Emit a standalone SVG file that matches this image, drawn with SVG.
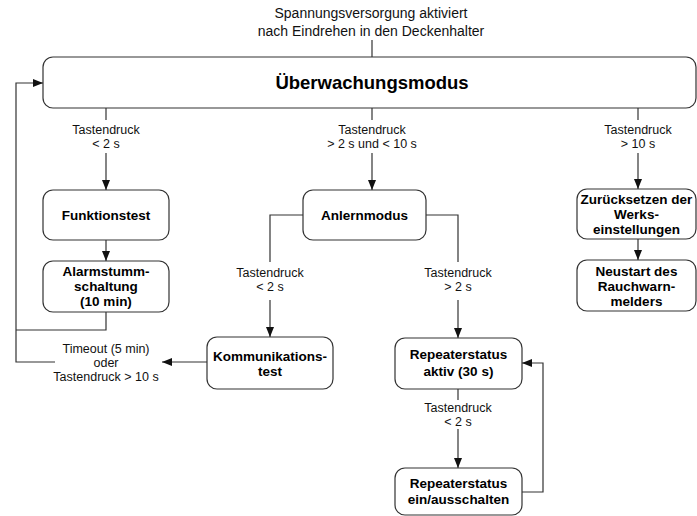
<svg xmlns="http://www.w3.org/2000/svg" width="697" height="516" viewBox="0 0 697 516">
<style>
.box{fill:#fff;stroke:#333;stroke-width:1.2}
.c{fill:none;stroke:#333;stroke-width:1.2}
.t{font-family:"Liberation Sans",Arial,sans-serif;font-size:12.5px;fill:#111;text-anchor:middle}
.b{font-family:"Liberation Sans",Arial,sans-serif;font-size:13.5px;font-weight:bold;fill:#000;text-anchor:middle}
</style>
<defs>
<marker id="ah" viewBox="0 0 10 8" refX="10" refY="4" markerWidth="10" markerHeight="8" markerUnits="userSpaceOnUse" orient="auto">
<path d="M0,0 L10,4 L0,8 Z" fill="#111"/>
</marker>
</defs>
<rect width="697" height="516" fill="#fff"/>
<g id="connectors">
<line class="c" x1="372" y1="40" x2="372" y2="57"/>
<line class="c" x1="106" y1="108" x2="106" y2="120"/>
<line class="c" x1="106" y1="153" x2="106" y2="190" marker-end="url(#ah)"/>
<line class="c" x1="106" y1="240" x2="106" y2="261" marker-end="url(#ah)"/>
<polyline class="c" points="106,312 106,330 16,330"/>
<polyline class="c" points="55,362 16,362 16,83 43,83" marker-end="url(#ah)"/>
<line class="c" x1="372" y1="108" x2="372" y2="120"/>
<line class="c" x1="372" y1="153" x2="372" y2="190" marker-end="url(#ah)"/>
<polyline class="c" points="303,215 270,215 270,262"/>
<line class="c" x1="270" y1="300" x2="270" y2="337" marker-end="url(#ah)"/>
<line class="c" x1="207" y1="362" x2="162" y2="362" marker-end="url(#ah)"/>
<polyline class="c" points="426,215 458,215 458,262"/>
<line class="c" x1="458" y1="300" x2="458" y2="338" marker-end="url(#ah)"/>
<line class="c" x1="458" y1="389" x2="458" y2="400"/>
<line class="c" x1="458" y1="429" x2="458" y2="468" marker-end="url(#ah)"/>
<polyline class="c" points="522,492 543,492 543,363 522,363" marker-end="url(#ah)"/>
<line class="c" x1="638" y1="108" x2="638" y2="120"/>
<line class="c" x1="638" y1="153" x2="638" y2="189" marker-end="url(#ah)"/>
<line class="c" x1="638" y1="239" x2="638" y2="260" marker-end="url(#ah)"/>
</g>
<g id="labels">
<text class="t" x="371" y="18" style="font-size:14px">Spannungsversorgung aktiviert</text>
<text class="t" x="371" y="36" style="font-size:14px">nach Eindrehen in den Deckenhalter</text>
<text class="t" x="106" y="133.5">Tastendruck</text>
<text class="t" x="106" y="147.5">&lt; 2 s</text>
<text class="t" x="372" y="133.5">Tastendruck</text>
<text class="t" x="372" y="147.5">&gt; 2 s und &lt; 10 s</text>
<text class="t" x="638" y="133.5">Tastendruck</text>
<text class="t" x="638" y="147.5">&gt; 10 s</text>
<text class="t" x="270" y="277">Tastendruck</text>
<text class="t" x="270" y="291">&lt; 2 s</text>
<text class="t" x="458" y="277">Tastendruck</text>
<text class="t" x="458" y="291">&gt; 2 s</text>
<text class="t" x="458" y="412">Tastendruck</text>
<text class="t" x="458" y="426">&lt; 2 s</text>
<text class="t" x="106" y="353">Timeout (5 min)</text>
<text class="t" x="106" y="367">oder</text>
<text class="t" x="106" y="381">Tastendruck &gt; 10 s</text>
</g>
<g id="ueberwachungsmodus">
<rect class="box" x="43" y="57" width="653" height="51" rx="10"/>
<text class="b" x="372" y="89" style="font-size:18.5px">Überwachungsmodus</text>
</g>
<g id="funktionstest">
<rect class="box" x="43" y="190" width="126" height="50" rx="10"/>
<text class="b" x="106" y="219.5">Funktionstest</text>
</g>
<g id="alarmstummschaltung">
<rect class="box" x="43" y="261" width="126" height="51" rx="10"/>
<text class="b" x="106" y="276">Alarmstumm-</text>
<text class="b" x="106" y="291">schaltung</text>
<text class="b" x="106" y="306">(10 min)</text>
</g>
<g id="anlernmodus">
<rect class="box" x="303" y="190" width="123" height="50" rx="10"/>
<text class="b" x="364.5" y="219.5">Anlernmodus</text>
</g>
<g id="kommunikationstest">
<rect class="box" x="207" y="337" width="126" height="52" rx="10"/>
<text class="b" x="270" y="361">Kommunikations-</text>
<text class="b" x="270" y="376">test</text>
</g>
<g id="repeater-aktiv">
<rect class="box" x="395" y="338" width="127" height="51" rx="10"/>
<text class="b" x="458.5" y="359">Repeaterstatus</text>
<text class="b" x="458.5" y="376">aktiv (30 s)</text>
</g>
<g id="repeater-schalten">
<rect class="box" x="395" y="468" width="127" height="47" rx="10"/>
<text class="b" x="458.5" y="488">Repeaterstatus</text>
<text class="b" x="458.5" y="504">ein/ausschalten</text>
</g>
<g id="zuruecksetzen">
<rect class="box" x="577" y="189" width="119" height="50" rx="10"/>
<text class="b" x="636.5" y="204">Zurücksetzen der</text>
<text class="b" x="636.5" y="219">Werks-</text>
<text class="b" x="636.5" y="234">einstellungen</text>
</g>
<g id="neustart">
<rect class="box" x="577" y="260" width="119" height="51" rx="10"/>
<text class="b" x="636.5" y="276">Neustart des</text>
<text class="b" x="636.5" y="291">Rauchwarn-</text>
<text class="b" x="636.5" y="306">melders</text>
</g>
</svg>
